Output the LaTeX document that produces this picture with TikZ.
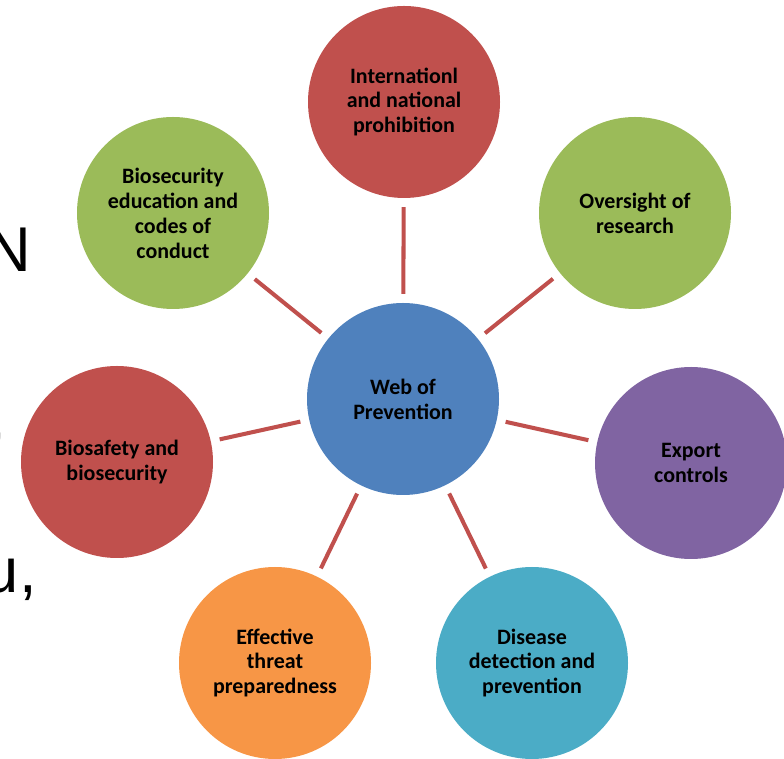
\documentclass[tikz,border=0pt]{standalone}
\usepackage{fontspec}
\setmainfont{Carlito}
\newfontfamily\slidefont{Liberation Sans}
\definecolor{webred}{HTML}{C0504D}
\definecolor{webgreen}{HTML}{9BBB59}
\definecolor{webblue}{HTML}{4F81BD}
\definecolor{webpurple}{HTML}{8064A2}
\definecolor{webteal}{HTML}{4BACC6}
\definecolor{weborange}{HTML}{F79646}

\begin{document}
\begin{tikzpicture}
        \useasboundingbox (0, 0) rectangle (15.68, 15.16);
        % slide text cut off at the left border
        \begin{scope}[every node/.style={inner sep=0pt,font=\slidefont\fontsize{36}{40}\selectfont}]
            \node (s1) [anchor=base east] at (0.64, 9.72) {N};
            \node (s2) [anchor=base east] at (0.1, 5.62) {’};
            \node (s3) [anchor=base east] at (0.74, 3.3) {u,};
        \end{scope}
        \begin{scope}[every node/.style={circle,draw=none,minimum size=3.84cm,inner sep=0pt,align=center,text=black,font=\bfseries\fontsize{12.5}{14.2}\selectfont}]
            \node (web) [fill=webblue] at (8.06, 7.18) {Web of\\Prevention};
            \node (intl) [fill=webred] at (8.08, 13.12) {Internationl\\and national\\prohibition};
            \node (edu) [fill=webgreen] at (3.46, 10.9) {Biosecurity\\education and\\codes of\\conduct};
            \node (over) [fill=webgreen] at (12.7, 10.9) {Oversight of\\research};
            \node (safe) [fill=webred] at (2.34, 5.92) {Biosafety and\\biosecurity};
            \node (exp) [fill=webpurple] at (13.82, 5.9) {Export\\controls};
            \node (threat) [fill=weborange] at (5.5, 1.9) {Effective\\threat\\preparedness};
            \node (dis) [fill=webteal] at (10.64, 1.9) {Disease\\detection and\\prevention};
        \end{scope}
        \path [-] (web) edge[draw=webred,line width=2.3pt,shorten >=5pt,shorten <=5pt] node {} (intl);
        \path [-] (web) edge[draw=webred,line width=2.3pt,shorten >=5pt,shorten <=5pt] node {} (edu);
        \path [-] (web) edge[draw=webred,line width=2.3pt,shorten >=5pt,shorten <=5pt] node {} (over);
        \path [-] (web) edge[draw=webred,line width=2.3pt,shorten >=5pt,shorten <=5pt] node {} (safe);
        \path [-] (web) edge[draw=webred,line width=2.3pt,shorten >=5pt,shorten <=5pt] node {} (exp);
        \path [-] (web) edge[draw=webred,line width=2.3pt,shorten >=5pt,shorten <=5pt] node {} (threat);
        \path [-] (web) edge[draw=webred,line width=2.3pt,shorten >=5pt,shorten <=5pt] node {} (dis);
    \end{tikzpicture}
\end{document}
